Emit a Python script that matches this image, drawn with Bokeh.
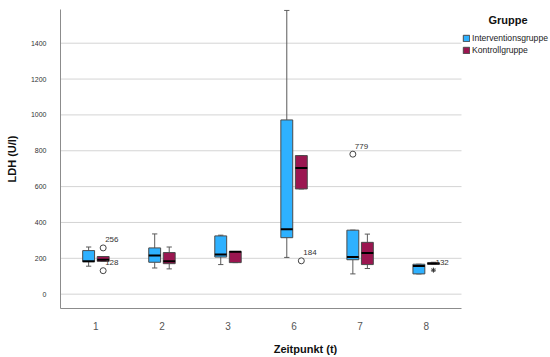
from bokeh.plotting import figure
from bokeh.models import ColumnDataSource, Range1d, FixedTicker, Legend, LegendItem, Label
from bokeh.embed import file_html
from bokeh.resources import INLINE
from bokeh.core.properties import value

# ---- data ----
zeitpunkte = ["1", "2", "3", "6", "7", "8"]
y_ticks = [0, 200, 400, 600, 800, 1000, 1200, 1400]

ig_lo = [156, 146, 165, 205, 113, 113]
ig_q1 = [181, 178, 207, 315, 192, 113]
ig_med = [183, 216, 221, 362, 207, 157]
ig_q3 = [243, 258, 325, 972, 357, 167]
ig_hi = [263, 336, 329, 1583, 357, 167]

kg_lo = [183, 141, 176, 587, 143, 167]
kg_q1 = [183, 170, 176, 587, 165, 167]
kg_med = [192, 183, 236, 704, 229, 171]
kg_q3 = [210, 232, 238, 773, 289, 175]
kg_hi = [210, 263, 238, 773, 335, 178]

out_group = ["K", "K", "K", "I"]
out_time = ["1", "1", "6", "7"]
out_val = [258, 131, 186, 781]
out_id = ["256", "128", "184", "779"]

ext_group = ["K"]
ext_time = ["8"]
ext_val = [134]
ext_id = ["132"]

groups = {"I": ("Interventionsgruppe", "#2eb1ff"), "K": ("Kontrollgruppe", "#9b1650")}
offset = {"I": -0.11, "K": 0.11}
BW = 0.09
CAP = 0.04
FONT = "Liberation Sans"

X0, X1 = -0.536, 5.535          # extent of the plotting area proper
FRAME_W = 490                   # frame also hosts the legend on the right
X_END = X0 + (X1 - X0) * FRAME_W / 401.0

p = figure(width=550, height=357, output_backend="svg", toolbar_location=None,
           x_range=Range1d(X0, X_END), y_range=Range1d(-80, 1588),
           min_border_left=60, min_border_right=0, min_border_top=9, min_border_bottom=45)
p.outline_line_color = None
p.background_fill_color = "white"
p.border_fill_color = "white"

# axes
p.xaxis.ticker = FixedTicker(ticks=list(range(len(zeitpunkte))))
p.xaxis.major_label_overrides = {i: z for i, z in enumerate(zeitpunkte)}
p.xaxis.bounds = (X0, X1)
p.yaxis.ticker = FixedTicker(ticks=y_ticks)
for ax in (p.xaxis[0], p.yaxis[0]):
    ax.major_tick_line_color = None
    ax.minor_tick_line_color = None
    ax.axis_line_color = "#8c8c8c"
    ax.major_label_text_font = FONT
    ax.axis_label_text_font = FONT
    ax.axis_label_text_font_style = "bold"
    ax.axis_label_text_font_size = "11px"
    ax.axis_label_text_color = "#111111"
p.xaxis.major_label_text_font_size = "10px"
p.xaxis.major_label_text_color = "#555555"
p.xaxis.major_label_standoff = 7
p.xaxis.axis_label = "Zeitpunkt (t)"
p.xaxis.axis_label_standoff = 10
p.yaxis.major_label_text_font_size = "7px"
p.yaxis.major_label_text_color = "#333333"
p.yaxis.major_label_standoff = 8
p.yaxis.axis_label = "LDH (U/l)"
p.yaxis.axis_label_standoff = 10
p.xgrid.grid_line_color = None
p.ygrid.grid_line_color = None

# horizontal grid lines, limited to the plotting area
gsrc = ColumnDataSource(dict(y=y_ticks, x0=[X0] * len(y_ticks), x1=[X1] * len(y_ticks)))
p.segment(x0="x0", y0="y", x1="x1", y1="y", source=gsrc, line_color="#d4d4d4", line_width=1)

box_renderers = {}
for g, lo, q1, med, q3, hi in [("I", ig_lo, ig_q1, ig_med, ig_q3, ig_hi),
                               ("K", kg_lo, kg_q1, kg_med, kg_q3, kg_hi)]:
    xs = [i + offset[g] for i in range(len(zeitpunkte))]
    src = ColumnDataSource(dict(
        x=xs, l=[x - BW for x in xs], r=[x + BW for x in xs],
        cl=[x - CAP for x in xs], cr=[x + CAP for x in xs],
        lo=lo, q1=q1, med=med, q3=q3, hi=hi))
    p.segment(x0="x", y0="lo", x1="x", y1="q1", source=src, line_color="#5a5a5a", line_width=1)
    p.segment(x0="x", y0="q3", x1="x", y1="hi", source=src, line_color="#5a5a5a", line_width=1)
    p.segment(x0="cl", y0="lo", x1="cr", y1="lo", source=src, line_color="#5a5a5a", line_width=1)
    p.segment(x0="cl", y0="hi", x1="cr", y1="hi", source=src, line_color="#5a5a5a", line_width=1)
    box_renderers[g] = p.quad(left="l", right="r", bottom="q1", top="q3", source=src,
                              fill_color=groups[g][1], line_color="#4a4a4a", line_width=1)
    p.segment(x0="l", y0="med", x1="r", y1="med", source=src, line_color="black", line_width=2)

# outliers
ox = [zeitpunkte.index(t) + offset[g] for t, g in zip(out_time, out_group)]
osrc = ColumnDataSource(dict(x=ox, y=out_val, t=out_id))
p.scatter(x="x", y="y", source=osrc, marker="circle", size=6, fill_color="white",
          line_color="#444444", line_width=1)
p.text(x="x", y="y", text="t", source=osrc, x_offset=2, y_offset=-8, text_font_size="8px",
       text_baseline="middle", text_align="left", text_font=value(FONT), text_color="#333333")

ex = [zeitpunkte.index(t) + offset[g] for t, g in zip(ext_time, ext_group)]
esrc = ColumnDataSource(dict(x=ex, y=ext_val, t=ext_id))
p.scatter(x="x", y="y", source=esrc, marker="asterisk", size=5, line_color="#333333", line_width=1)
p.text(x="x", y="y", text="t", source=esrc, x_offset=2, y_offset=-8, text_font_size="8px",
       text_baseline="middle", text_align="left", text_font=value(FONT), text_color="#333333")

# legend
legend = Legend(items=[LegendItem(label=groups["I"][0], renderers=[box_renderers["I"]]),
                       LegendItem(label=groups["K"][0], renderers=[box_renderers["K"]])],
                location=(402, 253), glyph_width=8, glyph_height=8, label_standoff=2,
                spacing=2, padding=0, margin=0, border_line_color=None,
                background_fill_alpha=0, label_text_font_size="8.6px", label_height=9,
                label_text_font=FONT, label_text_color="#222222")
p.add_layout(legend)
p.add_layout(Label(x=447.5, y=289, x_units="screen", y_units="screen", text="Gruppe",
                   text_align="center", text_baseline="middle", text_font=FONT,
                   text_font_style="bold", text_font_size="11px", text_color="#111111"))

open("out.html", "w").write(file_html(p, INLINE))
